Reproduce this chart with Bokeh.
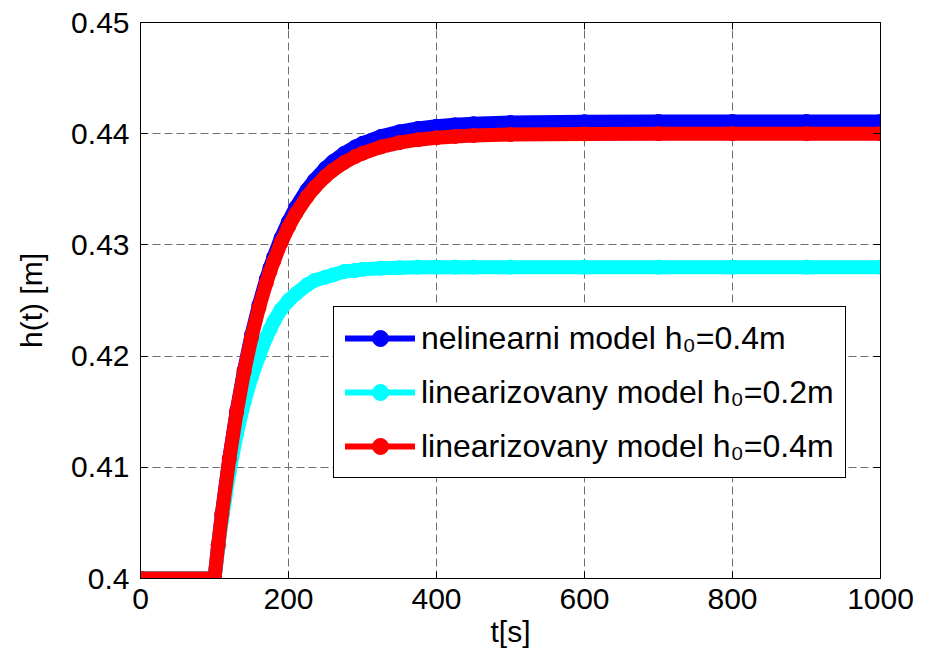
from bokeh.plotting import figure
from bokeh.models import (LinearAxis, FixedTicker, Legend, LegendItem, Range1d)
from bokeh.embed import file_html
from bokeh.resources import INLINE

# ---- data ----
t = [0, 100, 105, 110, 120, 130, 140, 150, 160, 170, 175, 180, 190, 200, 210,
     225, 235, 250, 260, 275, 290, 300, 325, 350, 375, 400, 425, 450, 500,
     600, 700, 800, 900, 1000]
h_nelin_04 = [0.4, 0.4, 0.40301, 0.40580, 0.41077, 0.41505, 0.41872, 0.42188,
              0.42459, 0.42692, 0.42795, 0.42891, 0.43063, 0.43211, 0.43338,
              0.43495, 0.43582, 0.43690, 0.43749, 0.43823, 0.43881, 0.43914,
              0.43976, 0.44018, 0.44047, 0.44067, 0.44080, 0.44090, 0.44101,
              0.44108, 0.44110, 0.44110, 0.44110, 0.44110]
h_lin_02 = [0.4, 0.4, 0.40277, 0.40528, 0.40954, 0.41301, 0.41583, 0.41812,
            0.41998, 0.42170, 0.42240, 0.42310, 0.42420, 0.42500, 0.42560,
            0.42640, 0.42680, 0.42710, 0.42730, 0.42760, 0.42770, 0.42780,
            0.42790, 0.42795, 0.42800, 0.42800, 0.42800, 0.42800, 0.42800,
            0.42800, 0.42800, 0.42800, 0.42800, 0.42800]
h_lin_04 = [0.4, 0.4, 0.40301, 0.40579, 0.41074, 0.41497, 0.41859, 0.42168,
            0.42434, 0.42660, 0.42761, 0.42854, 0.43020, 0.43162, 0.43283,
            0.43433, 0.43515, 0.43616, 0.43672, 0.43740, 0.43794, 0.43824,
            0.43881, 0.43920, 0.43946, 0.43963, 0.43975, 0.43983, 0.43992,
            0.43998, 0.44000, 0.44000, 0.44000, 0.44000]
series = [h_nelin_04, h_lin_02, h_lin_04]
series_labels = ["nelinearni model h\u2080=0.4m",
                 "linearizovany model h\u2080=0.2m",
                 "linearizovany model h\u2080=0.4m"]
series_colors = ["#0000ff", "#00ffff", "#ff0000"]

x_ticks = [0, 200, 400, 600, 800, 1000]
x_tick_labels = ["0", "200", "400", "600", "800", "1000"]
y_ticks = [0.40, 0.41, 0.42, 0.43, 0.44, 0.45]
y_tick_labels = ["0.4", "0.41", "0.42", "0.43", "0.44", "0.45"]
x_label = "t[s]"
y_label = "h(t) [m]"

FONT = "Liberation Sans"
FS = "30px"

p = figure(width=926, height=654, x_range=Range1d(0, 1000), y_range=Range1d(0.40, 0.45),
           output_backend="svg", toolbar_location=None,
           min_border_left=140, min_border_right=46, min_border_top=22, min_border_bottom=76,
           x_axis_label=x_label, y_axis_label=y_label)
p.background_fill_color = "white"
p.border_fill_color = "white"
p.outline_line_color = "black"
p.outline_line_width = 1

xt = FixedTicker(ticks=x_ticks, minor_ticks=[])
yt = FixedTicker(ticks=y_ticks, minor_ticks=[])

for ax in p.xaxis:
    ax.ticker = xt
    ax.major_label_overrides = {v: s for v, s in zip(x_ticks, x_tick_labels)}
for ax in p.yaxis:
    ax.ticker = yt
    ax.major_label_overrides = {v: s for v, s in zip(y_ticks, y_tick_labels)}

for ax in list(p.xaxis) + list(p.yaxis):
    ax.major_tick_in = 7
    ax.major_tick_out = 0
    ax.minor_tick_line_color = None
    ax.axis_line_color = "black"
    ax.major_tick_line_color = "black"
    ax.major_label_text_font = FONT
    ax.major_label_text_font_size = FS
    ax.major_label_text_color = "black"
    ax.axis_label_text_font = FONT
    ax.axis_label_text_font_size = FS
    ax.axis_label_text_font_style = "normal"
    ax.axis_label_text_color = "black"
p.xaxis.major_label_standoff = 10
p.xaxis.axis_label_standoff = 3
p.yaxis.major_label_standoff = 11
p.yaxis.axis_label_standoff = 20

# box axes (ticks only) on top and right
top_ax = LinearAxis(ticker=xt, major_tick_in=7, major_tick_out=0,
                    major_label_overrides={v: "" for v in x_ticks},
                    major_label_text_font_size="0px", minor_tick_line_color=None,
                    axis_line_color="black", major_label_standoff=0)
right_ax = LinearAxis(ticker=yt, major_tick_in=7, major_tick_out=0,
                      major_label_overrides={v: "" for v in y_ticks},
                      major_label_text_font_size="0px", minor_tick_line_color=None,
                      axis_line_color="black", major_label_standoff=0)
p.add_layout(top_ax, "above")
p.add_layout(right_ax, "right")

p.xgrid.ticker = xt
p.ygrid.ticker = yt
for g in (p.xgrid, p.ygrid):
    g.grid_line_color = "#707070"
    g.grid_line_dash = "8 4"
    g.grid_line_width = 1

items = []
for ys, lab, col in zip(series, series_labels, series_colors):
    p.line(t, ys, line_width=14, color=col, line_cap="round", line_join="round")
    thin = p.line(t, ys, line_width=6, color=col, line_cap="round", line_join="round")
    dots = p.scatter(t, ys, size=14, color=col, marker="circle")
    items.append(LegendItem(label=lab, renderers=[thin, dots]))

legend = Legend(items=items, location=(193, 100), glyph_width=70, glyph_height=40,
                label_text_font=FONT, label_text_font_size="32px", label_standoff=6,
                label_text_color="black",
                padding=11, spacing=14, margin=0, border_line_color="black",
                border_line_alpha=1, border_line_width=1,
                background_fill_color="white", background_fill_alpha=1)
p.add_layout(legend)

open("out.html", "w").write(file_html(p, INLINE))
